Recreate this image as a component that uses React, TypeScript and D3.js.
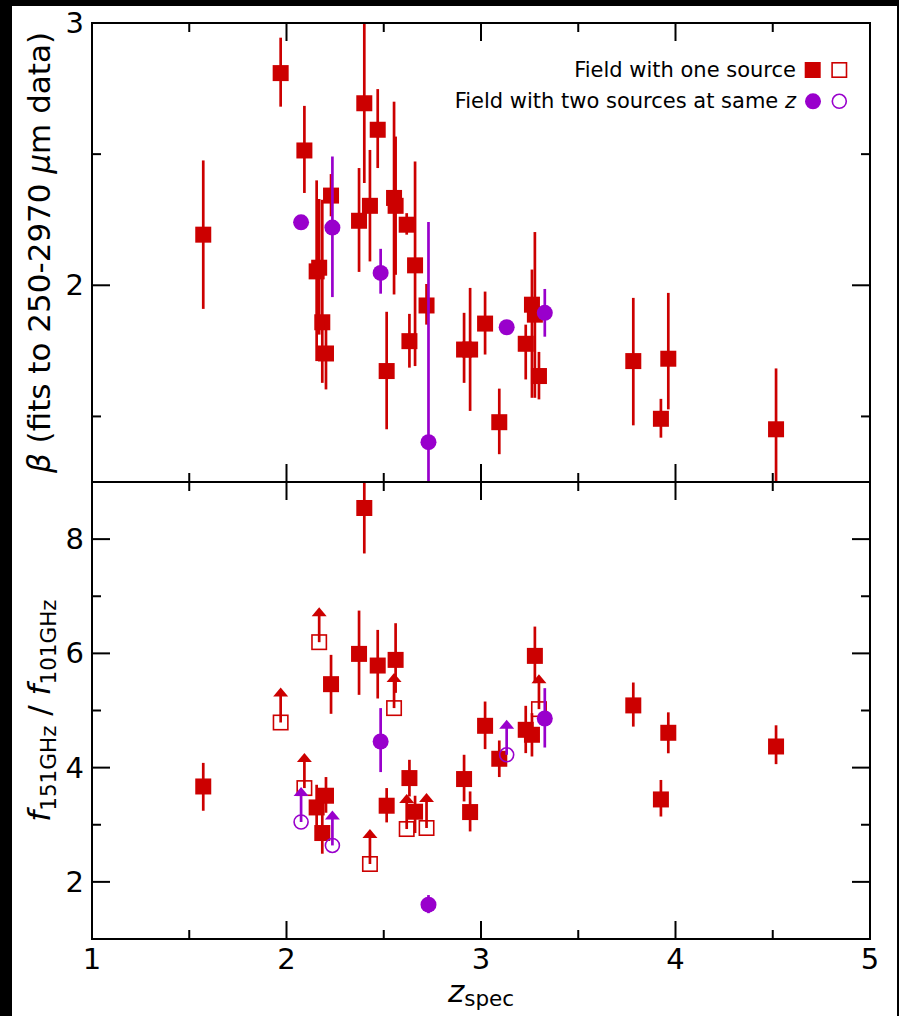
import React from "react";
import * as d3 from "d3";

// one entry per source, sorted by redshift
const zSpec = [1.572, 1.97, 2.075, 2.092, 2.155, 2.168, 2.184, 2.203, 2.229, 2.236, 2.373, 2.4, 2.429, 2.469, 2.484, 2.515, 2.553, 2.561, 2.618, 2.632, 2.661, 2.72, 2.73, 2.913, 2.944, 3.021, 3.094, 3.132, 3.23, 3.262, 3.277, 3.298, 3.328, 3.783, 3.925, 3.963, 4.517];
const nSources = [1, 1, 2, 1, 1, 1, 1, 1, 1, 2, 1, 1, 1, 1, 2, 1, 1, 1, 1, 1, 1, 1, 2, 1, 1, 1, 1, 2, 1, 1, 1, 1, 2, 1, 1, 1, 1];

const beta = [2.193, 2.809, 2.24, 2.514, 2.053, 2.067, 1.859, 1.74, 2.342, 2.22, 2.246, 2.694, 2.303, 2.593, 2.047, 1.673, 2.333, 2.303, 2.231, 1.787, 2.076, 1.923, 1.402, 1.755, 1.755, 1.854, 1.478, 1.84, 1.777, 1.926, 1.888, 1.654, 1.895, 1.711, 1.491, 1.72, 1.451];
const betaLo = [1.91, 2.681, null, 2.352, 1.711, 1.812, 1.628, 1.603, 2.263, 1.955, 2.051, 2.39, 2.091, 2.447, 1.968, 1.451, 1.965, 2.04, 2.193, 1.686, 1.692, 1.85, 1.2, 1.628, 1.521, 1.736, 1.356, null, 1.641, 1.571, 1.571, 1.565, 1.804, 1.466, 1.419, 1.527, 1.2];
const betaHi = [2.476, 2.944, null, 2.684, 2.4, 2.329, 2.326, 1.877, 2.424, 2.491, 2.447, 3.05, 2.516, 2.748, 2.139, 1.899, 2.7, 2.567, 2.275, 1.891, 2.472, 2.005, 2.241, 1.895, 1.99, 1.976, 1.606, null, 1.85, 2.06, 2.203, 1.746, 1.986, 1.952, 1.567, 1.971, 1.683];

const ratio = [3.67, 4.79, 3.048, 3.642, 3.303, 6.196, 2.855, 3.508, 5.461, 2.638, 5.991, 8.545, 2.313, 5.787, 4.457, 3.333, 5.042, 5.886, 2.925, 3.817, 3.228, 2.943, 1.601, 3.8, 3.222, 4.732, 4.155, 4.225, 4.662, 4.575, 5.956, 5.024, 4.86, 5.089, 3.443, 4.61, 4.37];
const ratioLo = [3.245, null, null, null, 2.86, null, 2.493, 3.21, 4.942, null, 5.274, 7.749, null, 5.21, 3.922, 3.041, null, 5.309, null, 3.495, 2.855, null, 1.452, 3.408, 2.883, 4.324, 3.835, null, 4.254, 4.195, 5.479, null, 4.352, 4.718, 3.144, 4.251, 4.061];
const ratioHi = [4.083, null, null, null, 3.7, null, 3.21, 3.835, 5.974, null, 6.749, 9.05, null, 6.411, 5.042, 3.642, null, 6.528, null, 4.137, 3.508, null, 1.769, 4.225, 3.583, 5.157, 4.475, null, 5.082, 4.954, 6.469, null, 5.391, 5.49, 3.784, 4.968, 4.741];
// lower limits on the ratio (open symbols with an arrow)
const ratioLimit = [0, 1, 1, 1, 0, 1, 0, 0, 0, 1, 0, 0, 1, 0, 0, 0, 1, 0, 1, 0, 0, 1, 0, 0, 0, 0, 0, 1, 0, 0, 0, 1, 0, 0, 0, 0, 0];

const xTicks = [1, 2, 3, 4, 5];
const xMinor = [1.5, 2.5, 3.5, 4.5];
const betaTicks = [2, 3];
const betaMinor = [1.5, 2.5];
const ratioTicks = [2, 4, 6, 8];
const ratioMinor = [1, 3, 5, 7, 9];

const legendLabels = ["Field with one source", "Field with two sources at same "];

const RED = "#cc0000";
const PURPLE = "#9900cc";
const FONT = "DejaVu Sans, Bitstream Vera Sans, sans-serif";

const SQ = 16;
const CR = 8;
const ARROW = 35;

function Marker({ cx, cy, two, open }) {
  const c = two ? PURPLE : RED;
  if (two) {
    return open ? (
      <circle cx={cx} cy={cy} r={CR - 1} fill="none" stroke={c} strokeWidth={1.6} />
    ) : (
      <circle cx={cx} cy={cy} r={CR} fill={c} />
    );
  }
  return open ? (
    <rect x={cx - SQ / 2 + 0.8} y={cy - SQ / 2 + 0.8} width={SQ - 1.6} height={SQ - 1.6} fill="none" stroke={c} strokeWidth={1.6} />
  ) : (
    <rect x={cx - SQ / 2} y={cy - SQ / 2} width={SQ} height={SQ} fill={c} />
  );
}

export default function App() {
  const W = 899;
  const H = 1016;
  const left = 92, right = 870, top = 23, mid = 482, bottom = 939;

  const x = d3.scaleLinear().domain([1, 5]).range([left, right]);
  const yBeta = d3.scaleLinear().domain([1.25, 3]).range([mid, top]);
  const yRatio = d3.scaleLinear().domain([1, 9]).range([bottom, mid]);

  const idx = d3.range(zSpec.length);
  // red first, purple on top
  const order = idx.filter((i) => nSources[i] === 1).concat(idx.filter((i) => nSources[i] === 2));

  const frame = (y, y0, y1, majors, minors, key) => (
    <g key={key} stroke="#000" strokeWidth={2} fill="none">
      {xTicks.map((t) => (
        <g key={"xt" + t}>
          <line x1={x(t)} x2={x(t)} y1={y0} y2={y0 - 18} />
          <line x1={x(t)} x2={x(t)} y1={y1} y2={y1 + 18} />
        </g>
      ))}
      {xMinor.map((t) => (
        <g key={"xm" + t}>
          <line x1={x(t)} x2={x(t)} y1={y0} y2={y0 - 9} />
          <line x1={x(t)} x2={x(t)} y1={y1} y2={y1 + 9} />
        </g>
      ))}
      {majors.map((t) => (
        <g key={"yt" + t}>
          <line x1={left} x2={left + 18} y1={y(t)} y2={y(t)} />
          <line x1={right} x2={right - 18} y1={y(t)} y2={y(t)} />
        </g>
      ))}
      {minors.map((t) => (
        <g key={"ym" + t}>
          <line x1={left} x2={left + 9} y1={y(t)} y2={y(t)} />
          <line x1={right} x2={right - 9} y1={y(t)} y2={y(t)} />
        </g>
      ))}
      <rect x={left} y={y1} width={right - left} height={y0 - y1} />
    </g>
  );

  const points = (y, val, lo, hi, withLimits, clip) => (
    <g clipPath={`url(#${clip})`}>
      {order.map((i) => {
        const c = nSources[i] === 2 ? PURPLE : RED;
        const cx = x(zSpec[i]);
        const cy = y(val[i]);
        const lim = withLimits && ratioLimit[i] === 1;
        return (
          <g key={i}>
            {lo[i] != null && (
              <line x1={cx} x2={cx} y1={y(lo[i])} y2={y(hi[i])} stroke={c} strokeWidth={2.7} />
            )}
            {lim && (
              <g>
                <line x1={cx} x2={cx} y1={cy} y2={cy - ARROW + 6} stroke={c} strokeWidth={2.7} />
                <path
                  d={`M${cx},${cy - ARROW} L${cx - 7.5},${cy - ARROW + 9} L${cx + 7.5},${cy - ARROW + 9} Z`}
                  fill={c}
                />
              </g>
            )}
            <Marker cx={cx} cy={cy} two={nSources[i] === 2} open={lim} />
          </g>
        );
      })}
    </g>
  );

  return (
    <svg
      width={W}
      height={H}
      style={{ position: "absolute", left: 0, top: 0, display: "block" }}
      fontFamily={FONT}
    >
      <defs>
        <clipPath id="clipTop">
          <rect x={left} y={top} width={right - left} height={mid - top} />
        </clipPath>
        <clipPath id="clipBot">
          <rect x={left} y={mid} width={right - left} height={bottom - mid} />
        </clipPath>
      </defs>
      <rect x={0} y={0} width={W} height={H} fill="#000" />
      <rect x={12} y={6} width={885} height={H - 6} fill="#fff" />

      {points(yBeta, beta, betaLo, betaHi, false, "clipTop")}
      {points(yRatio, ratio, ratioLo, ratioHi, true, "clipBot")}

      {frame(yBeta, mid, top, betaTicks, betaMinor, "ftop")}
      {frame(yRatio, bottom, mid, ratioTicks, ratioMinor, "fbot")}

      {/* tick labels */}
      <g fontSize={29} fill="#000">
        {betaTicks.map((t) => (
          <text key={"bl" + t} x={left - 8} y={yBeta(t)} textAnchor="end" dominantBaseline="central">
            {t}
          </text>
        ))}
        {ratioTicks.map((t) => (
          <text key={"rl" + t} x={left - 8} y={yRatio(t)} textAnchor="end" dominantBaseline="central">
            {t}
          </text>
        ))}
        {xTicks.map((t) => (
          <text key={"xl" + t} x={x(t)} y={bottom + 30} textAnchor="middle">
            {t}
          </text>
        ))}
      </g>

      {/* axis titles */}
      <text x={x(3)} y={1002} textAnchor="middle" fontSize={31}>
        <tspan fontStyle="italic">z</tspan>
        <tspan fontSize={21.5} dy={4}>spec</tspan>
      </text>
      <text
        transform={`translate(50,${(top + mid) / 2}) rotate(-90)`}
        textAnchor="middle"
        fontSize={31}
      >
        <tspan fontStyle="italic">β</tspan> (fits to 250-2970 <tspan fontStyle="italic">μ</tspan>m data)
      </text>
      <text
        transform={`translate(50,${(mid + bottom) / 2}) rotate(-90)`}
        textAnchor="middle"
        fontSize={31}
      >
        <tspan fontStyle="italic">f</tspan>
        <tspan fontSize={21.5} dy={6}>151GHz</tspan>
        <tspan dy={-6}> / </tspan>
        <tspan fontStyle="italic">f</tspan>
        <tspan fontSize={21.5} dy={6}>101GHz</tspan>
      </text>

      {/* legend */}
      <g fontSize={21}>
        <text x={796} y={77} textAnchor="end">{legendLabels[0]}</text>
        <text x={796} y={108} textAnchor="end">
          {legendLabels[1]}
          <tspan fontStyle="italic">z</tspan>
        </text>
        <Marker cx={812.7} cy={70} two={false} open={false} />
        <Marker cx={839.3} cy={70} two={false} open={true} />
        <Marker cx={813} cy={101.3} two={true} open={false} />
        <Marker cx={839.3} cy={101.3} two={true} open={true} />
      </g>
    </svg>
  );
}
